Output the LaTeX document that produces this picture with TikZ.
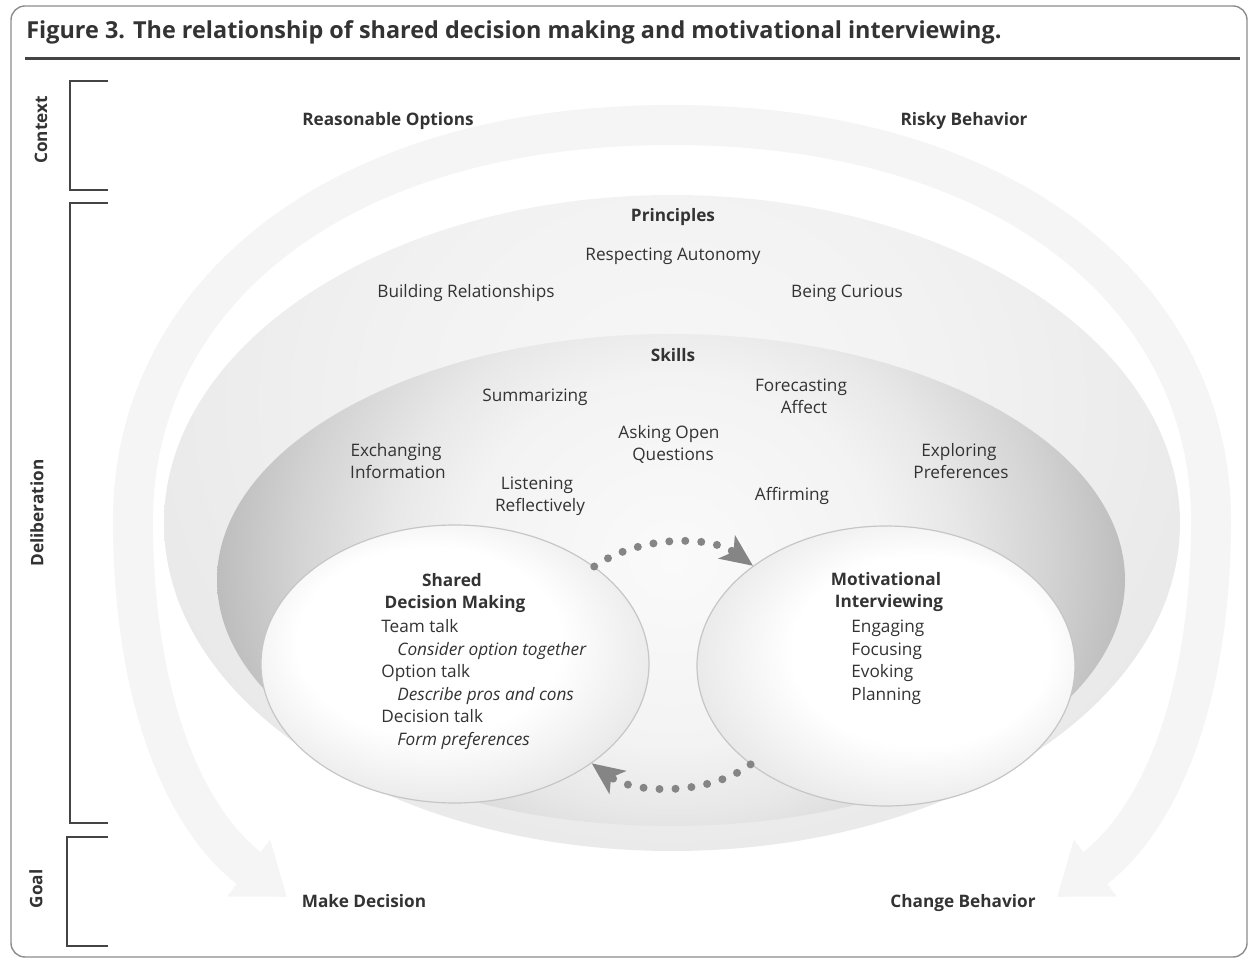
\documentclass[tikz,border=0pt]{standalone}
\usepackage{fontspec}
\setmainfont{Open Sans}
\usetikzlibrary{arrows.meta,shapes.geometric}
\definecolor{txt}{HTML}{333333}
\definecolor{pr0}{HTML}{F7F7F7}
\definecolor{pr1}{HTML}{F2F2F2}
\definecolor{pr2}{HTML}{E9E9E9}
\definecolor{sk0}{HTML}{FAFAFA}
\definecolor{sk1}{HTML}{F3F3F3}
\definecolor{sk2}{HTML}{E8E8E8}
\definecolor{sk3}{HTML}{D3D3D3}
\definecolor{sk4}{HTML}{B9B9B9}
\definecolor{cw}{HTML}{FFFFFF}
\definecolor{cg}{HTML}{E6E6E6}
\definecolor{faint}{HTML}{F5F5F5}
\definecolor{dotc}{HTML}{858585}
\definecolor{framec}{HTML}{8C8C8C}
\definecolor{rim}{HTML}{C6C6C6}
\definecolor{brk}{HTML}{444444}
\pgfdeclareradialshading{prshade}{\pgfpoint{0bp}{0bp}}{color(0bp)=(pr0); color(12bp)=(pr1); color(25bp)=(pr2); color(50bp)=(pr2)}
\pgfdeclareradialshading{skshade}{\pgfpoint{0bp}{0bp}}{color(0bp)=(sk0); color(11bp)=(sk1); color(15bp)=(sk2); color(20bp)=(sk3); color(25bp)=(sk4); color(50bp)=(sk4)}
\pgfdeclareradialshading{sdmshade}{\pgfpoint{-5bp}{6bp}}{color(0bp)=(cw); color(17bp)=(cw); color(30bp)=(cg); color(50bp)=(cg)}
\pgfdeclareradialshading{mishade}{\pgfpoint{7bp}{4bp}}{color(0bp)=(cw); color(17bp)=(cw); color(30bp)=(cg); color(50bp)=(cg)}
\tikzset{
  lbl/.style={inner sep=0pt, anchor=base, text=txt, font=\fontsize{8.6}{10}\selectfont},
  hd/.style={lbl, font=\fontsize{8.6}{10}\selectfont\bfseries},
  lft/.style={lbl, anchor=base west},
  itl/.style={lbl, anchor=base west, font=\fontsize{8.6}{10}\selectfont\itshape},
  side/.style={inner sep=0pt, rotate=90, text=txt, font=\fontsize{8.6}{10}\selectfont\bfseries},
  bracket/.style={draw=brk, line width=0.8pt},
  bigarrow/.style={draw=faint, line width=20pt, -{Triangle[length=24pt,width=34pt,color=faint]}},
  dotarrow/.style={draw=dotc, line width=4pt, dash pattern=on 0pt off 8pt, line cap=round, -{Stealth[length=16pt,width=14pt,inset=4pt,color=dotc]}},
  circ/.style={ellipse, inner sep=0pt, draw=rim, line width=0.6pt}
}
\begin{document}
\begin{tikzpicture}[x=0.5pt,y=-0.5pt]
\useasboundingbox (0,0) rectangle (1249,962);
% frame
\draw[framec, line width=0.7pt, rounded corners=7pt] (11,6) rectangle (1247,957);
\node[anchor=base west, inner sep=0pt, text=txt, font=\fontsize{11.7}{13}\selectfont\bfseries] (title) at (26,39) {Figure 3. The relationship of shared decision making and motivational interviewing.};
\coordinate (r0) at (25,58.5);
\coordinate (r1) at (1240,58.5);
\draw[line width=1.6pt, draw=brk] (r0) -- (r1);
% brackets
\draw[bracket] (108,81) -- (70,81) -- (70,190) -- (108,190);
\draw[bracket] (108,203) -- (70,203) -- (70,823) -- (108,823);
\draw[bracket] (108,837) -- (67,837) -- (67,946) -- (108,946);
\node[side] (ctx) at (41,130) {Context};
\node[side] (delib) at (37,513) {Deliberation};
\node[side] (goal) at (36,889) {Goal};
% faint big arrows
\coordinate (topc) at (672,125);
\coordinate (ltip) at (287,897);
\coordinate (rtip) at (1057,897);
\draw[bigarrow] (topc) .. controls (330,125) and (133,300) .. (133,520) .. controls (133,700) and (185,820) .. (ltip);
\draw[bigarrow] (topc) .. controls (1014,125) and (1211,300) .. (1211,520) .. controls (1211,700) and (1159,820) .. (rtip);
% principles ellipse
\node[ellipse, inner sep=0pt, minimum width=508pt, minimum height=328pt,
  path picture={\shade[shading=prshade] ([shift={(0,-120)}]path picture bounding box.center) ellipse [x radius=280pt, y radius=240pt];}] (principles) at (672,523) {};
% skills ellipse
\node[ellipse, inner sep=0pt, minimum width=454pt, minimum height=246pt,
  path picture={\shade[shading=skshade] ([shift={(2,-20)}]path picture bounding box.center) ellipse [x radius=235pt, y radius=210pt];}] (skills) at (671,580) {};
% circles
\node[circ, minimum width=194pt, minimum height=139pt, shade, shading=sdmshade] (sdm) at (455,664) {};
\node[circ, minimum width=189pt, minimum height=140pt, shade, shading=mishade] (mi) at (886,666) {};
% dotted arrows
\draw[dotarrow] (sdm.35) .. controls (640,535) and (710,535) .. (mi.143);
\draw[dotarrow] (mi.216) .. controls (710,795) and (635,795) .. (sdm.324);
% context / goal labels
\node[hd] (ro) at (388,126) {Reasonable Options};
\node[hd] (rb) at (964,126) {Risky Behavior};
\node[hd] (md) at (364,907) {Make Decision};
\node[hd] (cb) at (963,907) {Change Behavior};
% principles
\node[hd] (prin) at (673,222) {Principles};
\node[lbl] (ra) at (673,261) {Respecting Autonomy};
\node[lbl] (br) at (466,298) {Building Relationships};
\node[lbl] (bc) at (847,298) {Being Curious};
% skills
\node[hd] (skl) at (673,362) {Skills};
\node[lbl] (sum) at (535,402) {Summarizing};
\node[lbl] (fa1) at (801,392) {Forecasting};
\node[lbl] (fa2) at (804,414) {Affect};
\node[lbl] (ao1) at (669,439) {Asking Open};
\node[lbl] (ao2) at (673,461) {Questions};
\node[lbl] (ei1) at (396,457) {Exchanging};
\node[lbl] (ei2) at (398,479) {Information};
\node[lbl] (ep1) at (959,457) {Exploring};
\node[lbl] (ep2) at (961,479) {Preferences};
\node[lbl] (lr1) at (537,490) {Listening};
\node[lbl] (lr2) at (540,512) {Reflectively};
\node[lbl] (af) at (792,501) {Affirming};
% SDM
\node[hd] (sdm1) at (452,587) {Shared};
\node[hd] (sdm2) at (455,609) {Decision Making};
\node[lft] (team) at (381,633) {Team talk};
\node[itl] (cot) at (397,655.5) {Consider option together};
\node[lft] (opt) at (381,678) {Option talk};
\node[itl] (dpc) at (397,700.5) {Describe pros and cons};
\node[lft] (dec) at (381,723) {Decision talk};
\node[itl] (fp) at (397,745.5) {Form preferences};
% MI
\node[hd] (mi1) at (886,586) {Motivational};
\node[hd] (mi2) at (889,608) {Interviewing};
\node[lft] (eng) at (851,633) {Engaging};
\node[lft] (foc) at (851,655.5) {Focusing};
\node[lft] (evo) at (851,678) {Evoking};
\node[lft] (pla) at (851,700.5) {Planning};
\end{tikzpicture}
\end{document}
